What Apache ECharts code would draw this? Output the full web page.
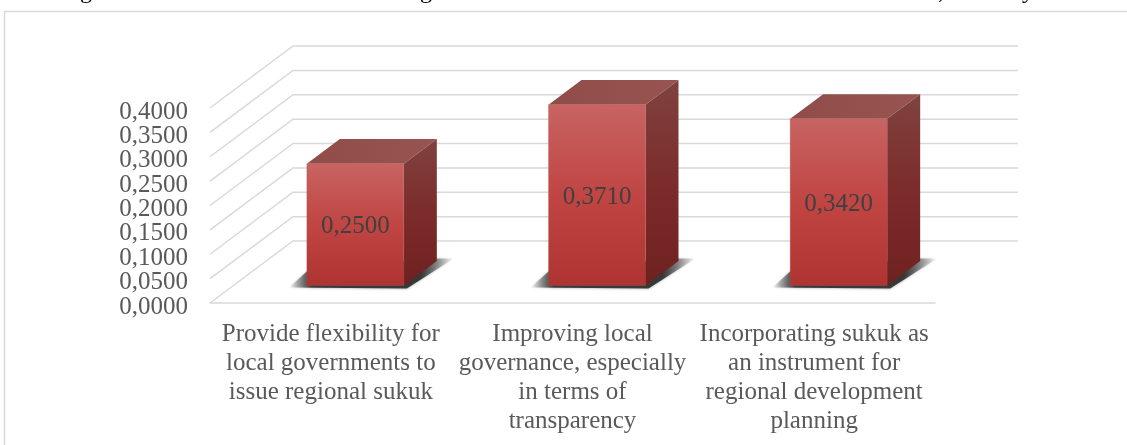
<!DOCTYPE html>
<html><head><meta charset="utf-8">
<style>html,body{margin:0;padding:0;background:#fff}#c{width:1127px;height:445px}</style>
<script src="https://cdn.jsdelivr.net/npm/echarts@6/dist/echarts.min.js"></script>
</head><body><div id="c"></div>
<script>
const categories = [
  'Provide flexibility for\nlocal governments to\nissue regional sukuk',
  'Improving local\ngovernance, especially\nin terms of\ntransparency',
  'Incorporating sukuk as\nan instrument for\nregional development\nplanning'
];
const values = [0.25, 0.371, 0.342];
const tickValues = [0, 0.05, 0.1, 0.15, 0.2, 0.25, 0.3, 0.35, 0.4];
const clippedGlyphs = [['g', 80], ['g', 420], [',', 938], ['y', 1022]];

const DEPTH_X = 83, DEPTH_Y = 62;       // floor depth of the 3-D box
const BAR_W = 97, BAR_DX = 33, BAR_DY = 24.6; // bar front width and side depth
const BAR_OFF_X = 24.5, BAR_OFF_Y = 17.5;     // bar position on the floor
const fmt = v => v.toFixed(4).replace('.', ',');
const serif = '"Liberation Serif", serif';
const grad = (x, y, x2, y2, stops) => ({type:'linear', x, y, x2, y2,
  colorStops: stops.map((c,i)=>({offset:i/(stops.length-1), color:c}))});

const chart = echarts.init(document.getElementById('c'), null, {renderer:'canvas'});
chart.setOption({
  animation:false,
  backgroundColor:'#fff',
  graphic:[
    {type:'polyline', silent:true, shape:{points:[[4.5,450],[4.5,11.5],[1130,11.5]]},
     style:{stroke:'#d9d9d9', lineWidth:1.5, fill:null}},
    ...clippedGlyphs.map(([t,x])=>({type:'text', silent:true, x, y:-20,
      style:{text:t, font:'24px "Liberation Serif"', fill:'#000'}}))
  ],
  grid:{left:210, right:192, top:108, bottom:142},
  xAxis:{type:'category', data:categories,
    axisLine:{lineStyle:{color:'#d9d9d9', width:1.5}},
    axisTick:{show:false},
    axisLabel:{interval:0, margin:17, color:'#595959', fontFamily:serif, fontSize:25, lineHeight:29}},
  yAxis:{type:'value', min:0, max:0.4, interval:0.05,
    axisLine:{show:false}, axisTick:{show:false}, splitLine:{show:false},
    axisLabel:{show:false}},
  series:[
    {type:'custom', silent:true, z:1, data:tickValues.map(v=>[0,v]),
     renderItem(params, api){
       const cs = params.coordSys;
       const v = api.value(1);
       const y = api.coord([0, v])[1];
       return {type:'group', children:[
         {type:'polyline', shape:{points:[[cs.x,y],[cs.x+DEPTH_X,y-DEPTH_Y],[cs.x+cs.width+DEPTH_X,y-DEPTH_Y]]},
          style:{stroke:'#d9d9d9', lineWidth:1.5, fill:null}},
         {type:'text', style:{text:fmt(v), x:cs.x-22, y:y+4, align:'right', verticalAlign:'middle',
            font:'25px "Liberation Serif"', fill:'#595959'}}
       ]};
     }},
    {type:'custom', silent:true, z:2, data:values.map((v,i)=>[i,v]),
     renderItem(params, api){
       const top = api.coord([api.value(0), api.value(1)]);
       const base = api.coord([api.value(0), 0]);
       const l = top[0] + BAR_OFF_X - BAR_W/2, r = l + BAR_W;
       const t = top[1] - BAR_OFF_Y, b = base[1] - BAR_OFF_Y;
       return {type:'group', children:[
         {type:'polygon', shape:{points:[[l-18,b+2],[r+3,b+3],[r+50,b-27],[r+26,b-27],[l,b-14]]},
          style:{fill:{type:'linear', x:0, y:0, x2:1, y2:0, colorStops:[
            {offset:0, color:'rgba(70,70,70,0)'},{offset:.14, color:'rgba(50,50,50,.95)'},
            {offset:.8, color:'rgba(50,50,50,.95)'},{offset:1, color:'rgba(70,70,70,0)'}]},
            shadowBlur:3, shadowColor:'rgba(60,60,60,.5)'}},
         {type:'polygon', shape:{points:[[l,t],[l+BAR_DX,t-BAR_DY],[r+BAR_DX,t-BAR_DY],[r,t]]},
          style:{fill:grad(0,0,1,0,['#8f4c49','#985451'])}},
         {type:'polygon', shape:{points:[[r,t],[r+BAR_DX,t-BAR_DY],[r+BAR_DX,b-BAR_DY],[r,b]]},
          style:{fill:grad(0,0,0,1,['#7f4240','#7c2c2a','#6f2120'])}},
         {type:'rect', shape:{x:l,y:t,width:BAR_W,height:b-t},
          style:{fill:grad(0,0,0,1,['#c76462','#c04543','#ae3432']),
            stroke:'rgba(180,90,90,.6)', lineWidth:0.5}},
         {type:'text', style:{text:fmt(api.value(1)), x:(l+r)/2, y:(t+b)/2+2, align:'center', verticalAlign:'middle',
            font:'25px "Liberation Serif"', fill:'#404040'}}
       ]};
     }}
  ]
});
</script></body></html>
